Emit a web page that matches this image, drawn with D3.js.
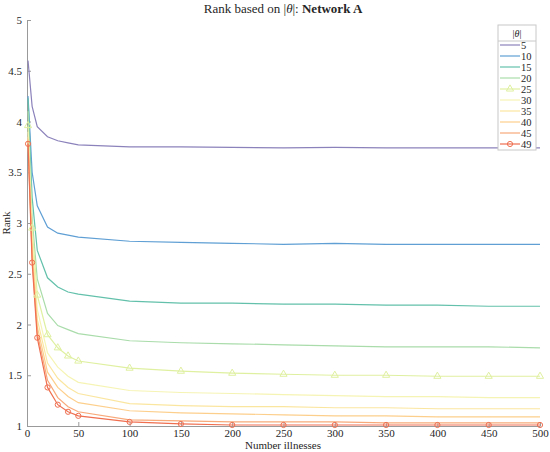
<!DOCTYPE html>
<html>
<head>
<meta charset="utf-8">
<script src="https://cdn.jsdelivr.net/npm/d3@7"></script>
<style>
  body { margin: 0; background: #fff; }
  text { font-family: "Liberation Serif", "DejaVu Serif", serif; }
  .axis path, .axis line { stroke: #9a9a9a; }
  .axis text { fill: #262626; font-size: 11px; }
</style>
</head>
<body>
<svg width="550" height="452"></svg>
<script>
// number of illnesses (x)
var illnesses = [1, 5, 10, 20, 30, 40, 50, 100, 150, 200, 250, 300, 350, 400, 450, 500];

// |theta| values, one series each
var thetas = [5, 10, 15, 20, 25, 30, 35, 40, 45, 49];

var rank5  = [4.60, 4.15, 3.95, 3.85, 3.81, 3.79, 3.77, 3.75, 3.75, 3.745, 3.74, 3.745, 3.74, 3.74, 3.74, 3.74];
var rank10 = [4.25, 3.50, 3.17, 2.96, 2.90, 2.88, 2.86, 2.82, 2.81, 2.80, 2.79, 2.80, 2.79, 2.79, 2.79, 2.79];
var rank15 = [4.23, 3.25, 2.73, 2.46, 2.37, 2.32, 2.30, 2.23, 2.21, 2.21, 2.20, 2.20, 2.19, 2.19, 2.18, 2.18];
var rank20 = [4.10, 3.05, 2.45, 2.11, 1.99, 1.95, 1.91, 1.84, 1.82, 1.81, 1.80, 1.79, 1.78, 1.78, 1.78, 1.77];
var rank25 = [3.96, 2.95, 2.29, 1.90, 1.77, 1.69, 1.64, 1.57, 1.54, 1.52, 1.51, 1.50, 1.50, 1.49, 1.49, 1.49];
var rank30 = [3.90, 2.85, 2.15, 1.72, 1.58, 1.49, 1.43, 1.35, 1.33, 1.32, 1.31, 1.30, 1.29, 1.29, 1.28, 1.28];
var rank35 = [3.85, 2.78, 2.05, 1.62, 1.47, 1.38, 1.32, 1.22, 1.20, 1.19, 1.19, 1.18, 1.18, 1.17, 1.17, 1.17];
var rank40 = [3.83, 2.72, 1.98, 1.53, 1.38, 1.29, 1.23, 1.15, 1.13, 1.12, 1.11, 1.10, 1.10, 1.09, 1.09, 1.09];
var rank45 = [3.80, 2.66, 1.92, 1.45, 1.28, 1.19, 1.14, 1.06, 1.05, 1.04, 1.04, 1.04, 1.03, 1.03, 1.03, 1.03];
var rank49 = [3.78, 2.61, 1.87, 1.38, 1.21, 1.14, 1.10, 1.04, 1.02, 1.01, 1.01, 1.01, 1.01, 1.01, 1.01, 1.01];

var xTicks = [0, 50, 100, 150, 200, 250, 300, 350, 400, 450, 500];
var yTicks = [1, 1.5, 2, 2.5, 3, 3.5, 4, 4.5, 5];

var colors = ["#8c82bb", "#5f9fd4", "#63c1ab", "#a9dcaa", "#dff0a0", "#f6f4b4",
              "#fbe6a0", "#fdcf8c", "#f8a97a", "#ef6f50"];

var series = thetas.map((t, i) => ({
  theta: t,
  color: colors[i],
  values: [rank5, rank10, rank15, rank20, rank25, rank30, rank35, rank40, rank45, rank49][i]
}));

var x = d3.scaleLinear().domain([0, 500]).range([27, 540]);
var y = d3.scaleLinear().domain([1, 5]).range([426, 20]);

var svg = d3.select("svg");

// axes, ticks pointing inward like matlab
svg.append("g")
  .attr("class", "axis")
  .attr("transform", "translate(0,426)")
  .call(d3.axisBottom(x).tickValues(xTicks).tickSizeInner(-4).tickSizeOuter(0).tickPadding(3));

svg.append("g")
  .attr("class", "axis")
  .attr("transform", "translate(27,0)")
  .call(d3.axisLeft(y).tickValues(yTicks).tickFormat(d3.format("")).tickSizeInner(-4).tickSizeOuter(0).tickPadding(5));

// axis labels + title
svg.append("text")
  .attr("x", 283).attr("y", 449)
  .attr("text-anchor", "middle")
  .style("font-size", "11px").style("fill", "#262626")
  .text("Number illnesses");

svg.append("text")
  .attr("transform", "translate(10,223) rotate(-90)")
  .attr("text-anchor", "middle")
  .style("font-size", "11px").style("fill", "#262626")
  .text("Rank");

var title = svg.append("text")
  .attr("x", 283).attr("y", 13)
  .attr("text-anchor", "middle")
  .style("font-size", "13px").style("fill", "#262626");
title.append("tspan").text("Rank based on |");
title.append("tspan").style("font-style", "italic").text("θ");
title.append("tspan").text("|: ");
title.append("tspan").style("font-weight", "bold").text("Network A");

var line = d3.line()
  .x((d, i) => x(illnesses[i]))
  .y(d => y(d));

var lines = svg.append("g");

lines.selectAll(".series")
  .data(series)
  .enter().append("path")
    .attr("class", "series")
    .attr("fill", "none")
    .attr("stroke", d => d.color)
    .attr("stroke-width", 1.2)
    .attr("d", d => line(d.values));

var tri = d3.symbol().type(d3.symbolTriangle).size(22);

// markers for 25 (triangles) and 49 (circles)
lines.selectAll(".tri")
  .data(rank25)
  .enter().append("path")
    .attr("class", "tri")
    .attr("d", tri)
    .attr("transform", (d, i) => "translate(" + x(illnesses[i]) + "," + y(d) + ")")
    .attr("fill", "none")
    .attr("stroke", colors[4])
    .attr("stroke-width", 1);

lines.selectAll(".circ")
  .data(rank49)
  .enter().append("circle")
    .attr("class", "circ")
    .attr("cx", (d, i) => x(illnesses[i]))
    .attr("cy", d => y(d))
    .attr("r", 2.6)
    .attr("fill", "none")
    .attr("stroke", colors[9])
    .attr("stroke-width", 1);

// legend
var leg = svg.append("g").attr("transform", "translate(498,25)");

leg.append("rect")
  .attr("width", 38).attr("height", 125)
  .attr("fill", "#fff")
  .attr("stroke", "#c8c8c8");

var lt = leg.append("text")
  .attr("x", 19).attr("y", 12)
  .attr("text-anchor", "middle")
  .style("font-size", "10px").style("fill", "#262626");
lt.append("tspan").text("|");
lt.append("tspan").style("font-style", "italic").text("θ");
lt.append("tspan").text("|");

leg.append("line")
  .attr("x1", 0).attr("x2", 38)
  .attr("y1", 16).attr("y2", 16)
  .attr("stroke", "#c8c8c8");

var item = leg.selectAll(".item")
  .data(series)
  .enter().append("g")
    .attr("class", "item")
    .attr("transform", (d, i) => "translate(0," + (20 + i * 11) + ")");

item.append("line")
  .attr("x1", 2).attr("x2", 22)
  .attr("stroke", d => d.color)
  .attr("stroke-width", 1.2);

item.filter(d => d.theta === 25).append("path")
  .attr("d", tri)
  .attr("transform", "translate(12,0)")
  .attr("fill", "none")
  .attr("stroke", colors[4]);

item.filter(d => d.theta === 49).append("circle")
  .attr("cx", 12).attr("r", 2.6)
  .attr("fill", "none")
  .attr("stroke", colors[9]);

item.append("text")
  .attr("x", 23).attr("dy", "0.35em")
  .style("font-size", "10.5px").style("fill", "#262626")
  .text(d => d.theta);
</script>
</body>
</html>
